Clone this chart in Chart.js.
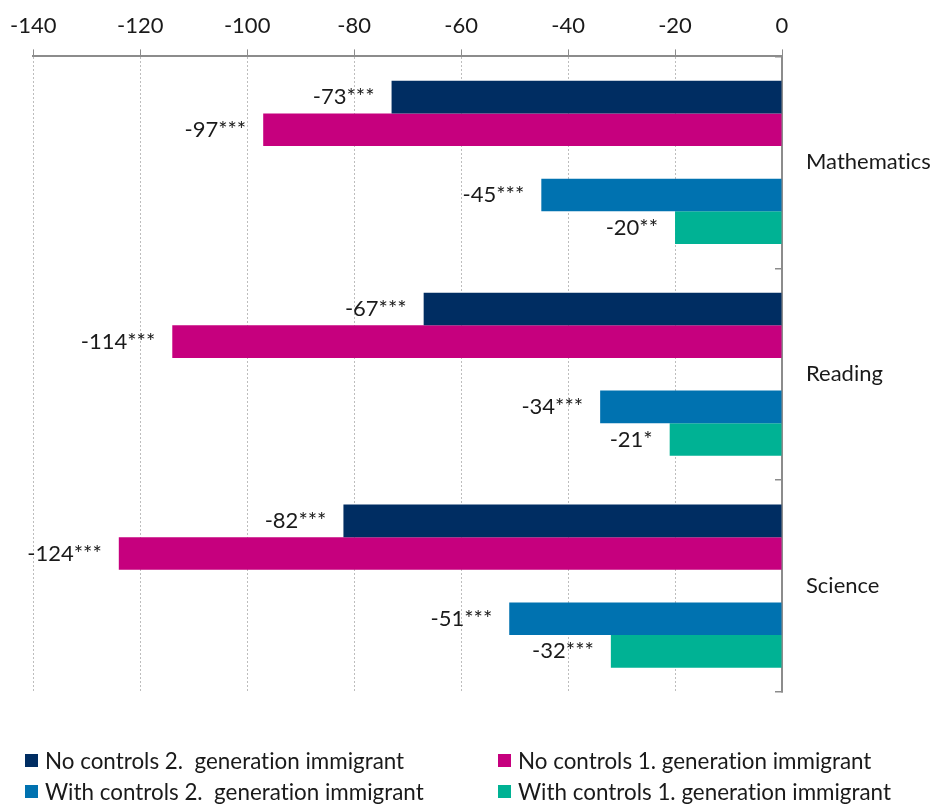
<!DOCTYPE html>
<html>
<head>
<meta charset="utf-8">
<script src="https://cdn.jsdelivr.net/npm/chart.js@4.4.1/dist/chart.umd.min.js"></script>
<style>
  html, body { margin: 0; padding: 0; background: #fff; }
  #wrap { position: relative; width: 936px; height: 807px; }
  #legend { position: absolute; left: 0; top: 745px; width: 936px; font-family: Lato, sans-serif; font-size: 22.4px; color: #1a1a1a; font-variant-ligatures: none; }
  .item { position: absolute; white-space: pre; display: flex; align-items: center; height: 30px; }
  .box { width: 13px; height: 13px; margin-right: 7px; }
</style>
</head>
<body>
<div id="wrap">
  <canvas id="chart" width="936" height="807"></canvas>
  <div id="legend"></div>
</div>
<script>
// subjects and series values (score points)
const subjects = ['Mathematics', 'Reading', 'Science'];
const noCtrl2Gen = [-73, -67, -82];
const noCtrl1Gen = [-97, -114, -124];
const withCtrl2Gen = [-45, -34, -51];
const withCtrl1Gen = [-20, -21, -32];
// significance labels shown next to each bar
const noCtrl2GenLbl = ['-73***', '-67***', '-82***'];
const noCtrl1GenLbl = ['-97***', '-114***', '-124***'];
const withCtrl2GenLbl = ['-45***', '-34***', '-51***'];
const withCtrl1GenLbl = ['-20**', '-21*', '-32***'];

const seriesNames = [
  'No controls 2.  generation immigrant',
  'No controls 1. generation immigrant',
  'With controls 2.  generation immigrant',
  'With controls 1. generation immigrant',
];
const colors = ['#002d62', '#c6007e', '#0072b0', '#00b294'];

const FONT = 'Lato, sans-serif';

// value labels drawn left of each bar end
const barLabels = {
  id: 'barLabels',
  afterDatasetsDraw(chart) {
    const ctx = chart.ctx;
    ctx.save();
    ctx.font = '22px ' + FONT;
    ctx.fillStyle = '#1a1a1a';
    ctx.textAlign = 'right';
    ctx.textBaseline = 'middle';
    chart.data.datasets.forEach((ds, i) => {
      if (!ds.valueLabels) return;
      chart.getDatasetMeta(i).data.forEach((bar, j) => {
        ctx.fillText(ds.valueLabels[j], bar.x - 17, bar.y);
      });
    });
    ctx.restore();
  },
};

new Chart(document.getElementById('chart'), {
  type: 'bar',
  data: {
    labels: subjects,
    datasets: [
      { label: seriesNames[0], data: noCtrl2Gen, backgroundColor: colors[0], valueLabels: noCtrl2GenLbl },
      { label: seriesNames[1], data: noCtrl1Gen, backgroundColor: colors[1], valueLabels: noCtrl1GenLbl },
      { label: '', data: [null, null, null], backgroundColor: 'rgba(0,0,0,0)' },
      { label: seriesNames[2], data: withCtrl2Gen, backgroundColor: colors[2], valueLabels: withCtrl2GenLbl },
      { label: seriesNames[3], data: withCtrl1Gen, backgroundColor: colors[3], valueLabels: withCtrl1GenLbl },
    ],
  },
  options: {
    indexAxis: 'y',
    responsive: false,
    animation: false,
    datasets: { bar: { barPercentage: 1, categoryPercentage: 0.77 } },
    layout: { padding: { top: 3, left: 7, right: 5, bottom: 115 } },
    plugins: { legend: { display: false }, tooltip: { enabled: false } },
    scales: {
      x: {
        position: 'top',
        min: -140,
        max: 0,
        ticks: { stepSize: 20, color: '#1a1a1a', font: { family: FONT, size: 22 }, padding: 10 },
        grid: { color: '#bdbdbd', tickColor: '#8c8c8c', tickLength: 7, lineWidth: 1 },
        border: { color: '#8c8c8c', width: 2, dash: [2, 2] },
      },
      y: {
        position: 'right',
        afterFit: (scale) => { scale.width = 149; },
        ticks: {
          color: '#1a1a1a',
          font: { family: FONT, size: 22 },
          padding: 31,
          // zero-width non-joiner keeps the "ti" glyphs apart
          callback: (v, i) => subjects[i].replace('ti', 't\u200ci'),
        },
        grid: { offset: true, drawOnChartArea: false, tickLength: -7, color: '#8c8c8c', lineWidth: 1.5 },
        border: { color: '#8c8c8c', width: 2 },
      },
    },
  },
  plugins: [barLabels],
});

// legend in two columns under the chart
const legendEl = document.getElementById('legend');
const legendPos = [[25, 0], [498, 0], [25, 31], [498, 31]];
seriesNames.forEach((name, i) => {
  const item = document.createElement('div');
  item.className = 'item';
  item.style.left = legendPos[i][0] + 'px';
  item.style.top = legendPos[i][1] + 'px';
  item.innerHTML = '<span class="box" style="background:' + colors[i] + '"></span>';
  item.appendChild(document.createTextNode(name));
  legendEl.appendChild(item);
});
</script>
</body>
</html>
